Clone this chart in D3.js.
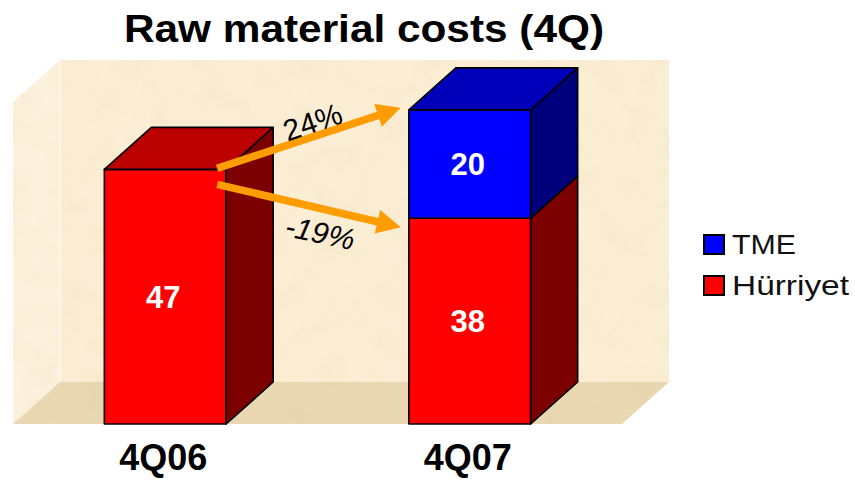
<!DOCTYPE html>
<html>
<head>
<meta charset="utf-8">
<script src="https://cdn.jsdelivr.net/npm/d3@7"></script>
<style>
  html, body { margin: 0; padding: 0; background: #ffffff; }
  svg { display: block; }
  text { font-family: Arial, "Liberation Sans", Helvetica, sans-serif; }
</style>
</head>
<body>
<svg id="chart" width="855" height="480"></svg>
<script>
// Raw material costs, fourth quarter, stacked by company
const categories = ["4Q06", "4Q07"];
const seriesNames = ["Hürriyet", "TME"];
const hurriyetValues = [47, 38];
const tmeValues = [0, 20];
const changeLabels = ["24%", "-19%"];
const titleText = "Raw material costs (4Q)";
const legendLabels = ["TME", "Hürriyet"];

const W = 855, H = 480;
const svg = d3.select("#chart");

// 3D geometry of the plot box
const depth = { dx: 47, dy: -42 };
const floorLeft = 13, floorRight = 622, floorY = 424;

const x = d3.scaleBand()
  .domain(categories)
  .range([floorLeft, floorRight])
  .paddingInner(0.6)
  .paddingOuter(0.3);

const y = d3.scaleLinear().domain([0, 60]).range([floorY, 99]);

const colors = {
  "Hürriyet": { front: "#ff0000", top: "#bb0000", side: "#7d0000" },
  "TME": { front: "#0000ff", top: "#0000bb", side: "#00007d" }
};

// ---- parchment texture ----
const defs = svg.append("defs");
const tex = defs.append("filter").attr("id", "paper")
  .attr("x", 0).attr("y", 0).attr("width", 1).attr("height", 1);
tex.append("feTurbulence").attr("type", "fractalNoise")
  .attr("baseFrequency", 0.035).attr("numOctaves", 3).attr("seed", 7).attr("result", "noise");
tex.append("feColorMatrix").attr("in", "noise").attr("type", "matrix")
  .attr("values", "0 0 0 0 0.75  0 0 0 0 0.62  0 0 0 0 0.40  1.1 0 0 0 -0.45")
  .attr("result", "tint");
tex.append("feComposite").attr("in", "tint").attr("in2", "SourceGraphic").attr("operator", "in");

const backX0 = floorLeft + depth.dx, backX1 = floorRight + depth.dx;
const backBottom = floorY + depth.dy;

const walls = [
  { name: "back", fill: "#fbeed4", pts: [[backX0, 60], [backX1, 60], [backX1, backBottom], [backX0, backBottom]] },
  { name: "left", fill: "#fcf1dc", pts: [[floorLeft, 60 - depth.dy], [backX0, 60], [backX0, backBottom], [floorLeft, floorY]] },
  { name: "floor", fill: "#ead8b3", pts: [[floorLeft, floorY], [backX0, backBottom], [backX1, backBottom], [floorRight, floorY]] }
];

const wallG = svg.append("g");
walls.forEach(w => {
  const d = "M" + w.pts.map(p => p.join(",")).join("L") + "Z";
  wallG.append("path").attr("d", d).attr("fill", w.fill);
  wallG.append("path").attr("d", d).attr("fill", "#000").attr("opacity", w.name === "floor" ? 0.55 : 0.28)
    .attr("filter", "url(#paper)");
});
// pale edge where left wall meets back wall
wallG.append("line")
  .attr("x1", backX0).attr("y1", 60).attr("x2", backX0).attr("y2", backBottom)
  .attr("stroke", "#fffaf0").attr("stroke-width", 1.2);

// ---- stacked 3D bars ----
const rows = categories.map((c, i) => ({ cat: c, "Hürriyet": hurriyetValues[i], "TME": tmeValues[i] }));
const stacked = d3.stack().keys(seriesNames)(rows);

const barG = svg.append("g").attr("stroke", "#000").attr("stroke-width", 1.6).attr("stroke-linejoin", "round");
const poly = pts => "M" + pts.map(p => p.join(",")).join("L") + "Z";

categories.forEach((cat, i) => {
  const x0 = x(cat), x1 = x0 + x.bandwidth();
  const segs = stacked.map(s => ({ key: s.key, y0: s[i][0], y1: s[i][1] })).filter(s => s.y1 > s.y0);
  segs.forEach((s, k) => {
    const c = colors[s.key];
    const yb = y(s.y0), yt = y(s.y1);
    barG.append("path").attr("d", poly([[x0, yt], [x1, yt], [x1, yb], [x0, yb]])).attr("fill", c.front);
    barG.append("path").attr("d", poly([[x1, yt], [x1 + depth.dx, yt + depth.dy], [x1 + depth.dx, yb + depth.dy], [x1, yb]])).attr("fill", c.side);
    if (k === segs.length - 1) {
      barG.append("path").attr("d", poly([[x0, yt], [x0 + depth.dx, yt + depth.dy], [x1 + depth.dx, yt + depth.dy], [x1, yt]])).attr("fill", c.top);
    }
    // value label
    svg.append("text")
      .attr("x", (x0 + x1) / 2 - 2)
      .attr("y", (yb + yt) / 2 + 11)
      .attr("text-anchor", "middle")
      .attr("fill", "#fff")
      .attr("font-weight", "bold")
      .attr("font-size", 31)
      .text(s.y1 - s.y0);
  });
});

// ---- change arrows from 4Q06 to 4Q07 ----
const arrowColor = "#ff9c00";
function arrow(p0, p1) {
  const dx = p1[0] - p0[0], dy = p1[1] - p0[1];
  const L = Math.hypot(dx, dy), ux = dx / L, uy = dy / L, nx = -uy, ny = ux;
  const hl = 24, hw = 12, sw = 3.8;
  const bx = p1[0] - ux * hl, by = p1[1] - uy * hl;
  const pts = [
    [p0[0] + nx * sw, p0[1] + ny * sw],
    [bx + nx * sw, by + ny * sw],
    [bx + nx * hw, by + ny * hw],
    p1,
    [bx - nx * hw, by - ny * hw],
    [bx - nx * sw, by - ny * sw],
    [p0[0] - nx * sw, p0[1] - ny * sw]
  ];
  svg.append("path").attr("d", poly(pts)).attr("fill", arrowColor);
}
const fromX = x(categories[0]) + x.bandwidth() - 9;
const toX = x(categories[1]) - 8;
const total07 = hurriyetValues[1] + tmeValues[1];
arrow([fromX, y(hurriyetValues[0]) - 1], [toX, y(total07) - 2]);
arrow([fromX, y(hurriyetValues[0]) + 15], [toX, y(hurriyetValues[1]) + 9]);

svg.append("text")
  .attr("transform", "translate(316,132) rotate(-19)")
  .attr("text-anchor", "middle").attr("font-size", 30).attr("fill", "#000")
  .text(changeLabels[0]);
svg.append("text")
  .attr("transform", "translate(318,243) rotate(12)")
  .attr("text-anchor", "middle").attr("font-size", 30).attr("font-style", "italic").attr("fill", "#000")
  .text(changeLabels[1]);

// ---- title ----
svg.append("text")
  .attr("x", 364).attr("y", 42)
  .attr("text-anchor", "middle")
  .attr("font-weight", "bold").attr("font-size", 39)
  .attr("textLength", 480).attr("lengthAdjust", "spacingAndGlyphs")
  .text(titleText);

// ---- category labels ----
svg.selectAll(".cat").data(categories).enter().append("text")
  .attr("class", "cat")
  .attr("x", d => x(d) + x.bandwidth() / 2 - 2)
  .attr("y", 470)
  .attr("text-anchor", "middle")
  .attr("font-weight", "bold").attr("font-size", 36)
  .attr("fill", "#000")
  .text(d => d);

// ---- legend ----
const legendKeys = ["TME", "Hürriyet"];
const legend = svg.append("g").attr("transform", "translate(703,234)");
legendKeys.forEach((k, i) => {
  const g = legend.append("g").attr("transform", `translate(0,${i * 41})`);
  g.append("rect").attr("x", 1).attr("y", 1).attr("width", 20).attr("height", 19)
    .attr("fill", colors[k].front).attr("stroke", "#000").attr("stroke-width", 2);
  g.append("text").attr("x", 29).attr("y", 20)
    .attr("font-size", 28).attr("fill", "#111")
    .attr("textLength", i === 0 ? 64 : 117).attr("lengthAdjust", "spacingAndGlyphs")
    .text(legendLabels[i]);
});
</script>
</body>
</html>
